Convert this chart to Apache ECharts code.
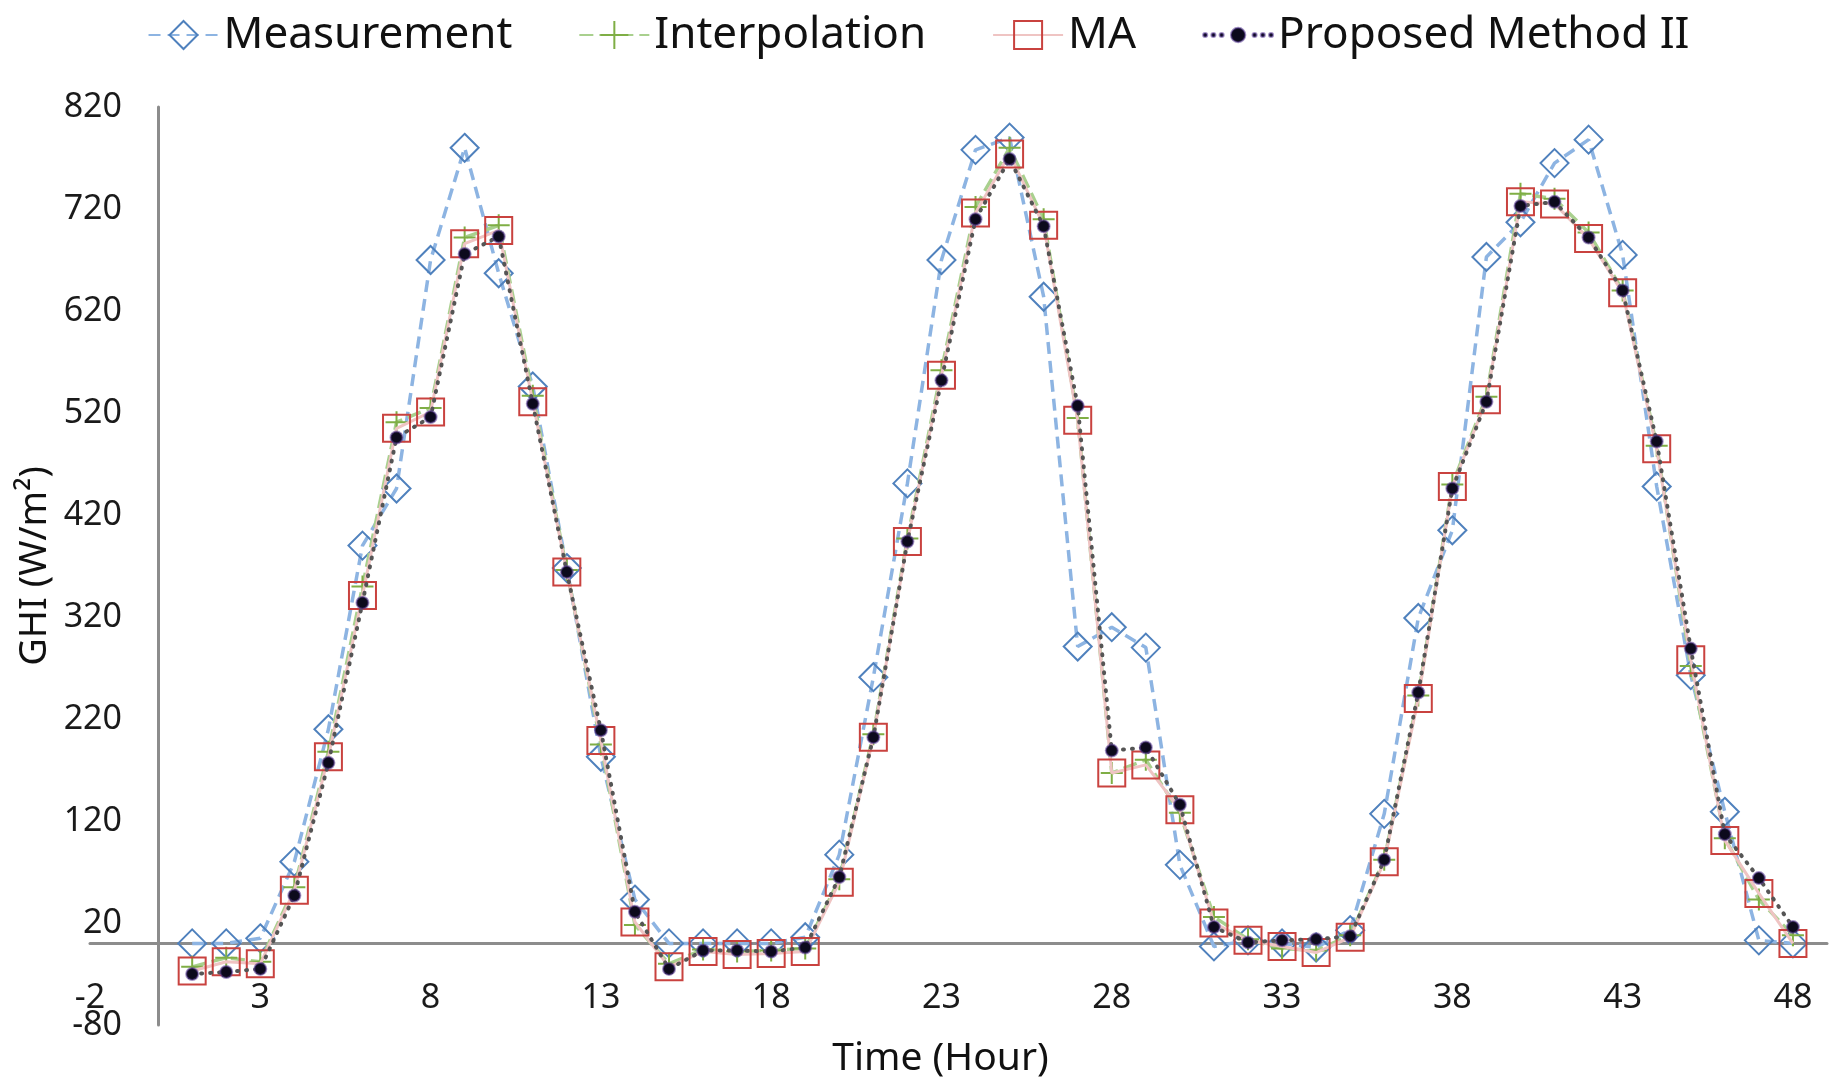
<!DOCTYPE html>
<html>
<head>
<meta charset="utf-8">
<title>GHI</title>
<script src="https://cdn.jsdelivr.net/npm/echarts@6/dist/echarts.min.js"></script>
<style>
  html, body { margin: 0; padding: 0; background: #fff; }
  #chart { width: 1837px; height: 1081px; }
</style>
</head>
<body>
<div id="chart"></div>
<script>
// Hour index (x) for each sample
const hours = [1, 2, 3, 4, 5, 6, 7, 8, 9, 10, 11, 12, 13, 14, 15, 16, 17, 18, 19, 20, 21, 22, 23, 24,
  25, 26, 27, 28, 29, 30, 31, 32, 33, 34, 35, 36, 37, 38, 39, 40, 41, 42, 43, 44, 45, 46, 47, 48];

// GHI (W/m2) per hour
const measurement = [0, 0, 5, 80, 210, 390, 446, 670, 780, 657, 546, 368, 183, 43, 0, 0, 0, 0, 6, 87,
  261, 451, 670, 778, 790, 634, 291, 310, 290, 77, -3, 3, 0, -4, 13, 127, 319, 405, 673, 707,
  765, 788, 675, 448, 263, 129, 3, 0];
const interpolation = [-23, -14, -18, 55, 188, 350, 511, 525, 692, 704, 537, 366, 195, 18, -20, -6, -8, -7, -5, 63,
  205, 397, 562, 722, 780, 710, 515, 167, 180, 128, 26, 4, -5, -7, 8, 82, 243, 450, 536, 735,
  730, 697, 640, 488, 272, 103, 43, 8];
const movingAverage = [-27, -18, -20, 52, 183, 341, 505, 521, 686, 699, 531, 364, 199, 21, -23, -8, -11, -10, -8, 60,
  202, 394, 557, 716, 774, 704, 513, 167, 175, 131, 20, 3, -3, -9, 6, 80, 240, 448, 533, 727,
  725, 691, 638, 485, 278, 101, 49, 0];
const proposedII = [-30, -28, -25, 47, 177, 334, 496, 516, 676, 693, 529, 364, 209, 31, -25, -7, -7, -8, -4, 65,
  202, 394, 552, 710, 769, 703, 527, 189, 192, 136, 16, 1, 3, 4, 7, 82, 246, 446, 531, 723,
  727, 692, 640, 492, 289, 107, 64, 16];

// Axis ranges and tick spacing
const xMin = -2, xMax = 49, xStep = 5;
const yMin = -80, yMax = 820, yStep = 100;

const pairs = (vals) => hours.map((h, i) => [h, vals[i]]);

// Legend icon for the dotted series: dotted line with a centre dot
function dotIcon() {
  const c = (cx, cy, r) => `M${cx - r},${cy} a${r},${r} 0 1,0 ${2 * r},0 a${r},${r} 0 1,0 ${-2 * r},0 Z`;
  const small = [3, 11, 19, 51, 59, 67].map(x => c(x, 7, 2)).join(' ');
  return 'path://' + small + ' ' + c(35, 7, 7);
}

const FONT = 'Noto Sans';
const chart = echarts.init(document.getElementById('chart'), null, { renderer: 'canvas' });

chart.setOption({
  animation: false,
  backgroundColor: '#ffffff',
  textStyle: { fontFamily: FONT },
  legend: {
    top: 8,
    left: 'center',
    itemWidth: 70,
    itemHeight: 35,
    itemGap: 66,
    symbolKeepAspect: true,
    textStyle: { fontSize: 44, color: '#111111', fontFamily: FONT },
    data: [
      { name: 'Measurement' },
      { name: 'Interpolation' },
      { name: 'MA' },
      { name: 'Proposed Method II', icon: dotIcon() }
    ]
  },
  grid: {
    left: 90, right: 10, top: 107, bottom: 56,
    containLabel: false,
    outerBoundsMode: 'none'
  },
  xAxis: {
    type: 'value',
    min: xMin, max: xMax, interval: xStep,
    name: 'Time (Hour)',
    nameLocation: 'middle',
    nameGap: 14,
    nameMoveOverlap: false,
    nameTextStyle: { fontSize: 39, color: '#111111', fontFamily: FONT, padding: [0, 36, 0, 0] },
    axisLine: { onZero: true, lineStyle: { color: '#8c8c8c', width: 3 } },
    axisTick: { show: false },
    splitLine: { show: false },
    axisLabel: { fontSize: 34, color: '#1a1a1a', margin: -44, showMaxLabel: false, fontFamily: FONT }
  },
  yAxis: {
    type: 'value',
    min: yMin, max: yMax, interval: yStep,
    name: 'GHI (W/m²)',
    nameLocation: 'middle',
    nameGap: 36,
    nameMoveOverlap: false,
    nameTextStyle: { fontSize: 38, color: '#111111', fontFamily: FONT },
    axisLine: { show: true, onZero: true, lineStyle: { color: '#8c8c8c', width: 3 } },
    axisTick: { show: false },
    splitLine: { show: false },
    axisLabel: { fontSize: 34, color: '#1a1a1a', margin: -32, fontFamily: FONT }
  },
  series: [
    {
      name: 'Measurement',
      type: 'line',
      data: pairs(measurement),
      symbol: 'diamond',
      symbolSize: 28,
      lineStyle: { color: '#8db4e2', width: 3.5, type: [12, 7] },
      itemStyle: { color: 'rgba(255,255,255,0)', borderColor: '#4f81bd', borderWidth: 2 },
      emphasis: { disabled: true },
      z: 2
    },
    {
      name: 'Interpolation',
      type: 'line',
      data: pairs(interpolation),
      symbol: 'path://M0,10 L20,10 M10,0 L10,20',
      symbolSize: 22,
      lineStyle: { color: '#a9d08e', width: 3.5, type: [14, 6] },
      itemStyle: { color: 'rgba(255,255,255,0)', borderColor: '#7fae45', borderWidth: 2 },
      emphasis: { disabled: true },
      z: 3
    },
    {
      name: 'MA',
      type: 'line',
      data: pairs(movingAverage),
      symbol: 'rect',
      symbolSize: 27,
      lineStyle: { color: '#efc4c3', width: 3 },
      itemStyle: { color: 'rgba(255,255,255,0)', borderColor: '#c9423f', borderWidth: 2 },
      emphasis: { disabled: true },
      z: 4
    },
    {
      name: 'Proposed Method II',
      type: 'line',
      data: pairs(proposedII),
      symbol: 'circle',
      symbolSize: 12,
      lineStyle: { color: '#555555', width: 4, type: [1, 8], cap: 'round' },
      itemStyle: { color: '#0c0a1c', borderColor: 'rgba(90,60,150,0.55)', borderWidth: 2 },
      emphasis: { disabled: true },
      z: 5
    }
  ]
});
</script>
</body>
</html>
